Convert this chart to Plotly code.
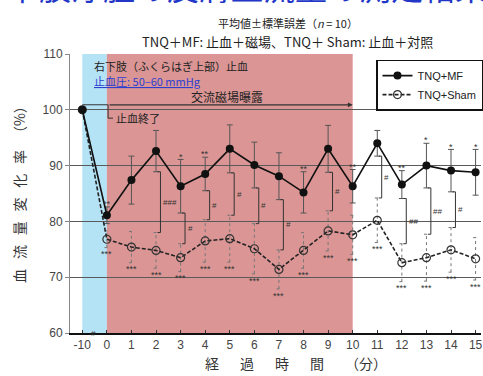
import plotly.graph_objects as go

# 経過時間（-10分は 0 の一つ左に配置）
X_POS = [-1, 0, 1, 2, 3, 4, 5, 6, 7, 8, 9, 10, 11, 12, 13, 14, 15]
X_LABELS = ["-10", "0", "1", "2", "3", "4", "5", "6", "7", "8", "9", "10",
            "11", "12", "13", "14", "15"]

mf = [100, 81.1, 87.4, 92.6, 86.3, 88.5, 93.0, 90.1, 88.1, 85.2, 93.0, 86.3,
      94.0, 86.6, 90.0, 89.1, 88.8]
mf_se = [0, 1.5, 4.3, 3.7, 4.8, 3.0, 4.3, 4.1, 4.2, 3.7, 4.2, 3.0,
         2.3, 2.5, 4.0, 3.8, 4.1]
sham = [100, 76.8, 75.4, 74.8, 73.5, 76.5, 76.9, 75.1, 71.4, 74.8, 78.3, 77.6,
        80.2, 72.6, 73.5, 74.9, 73.3]
sham_se = [0, 1.5, 2.8, 3.2, 2.5, 3.8, 4.2, 4.5, 3.5, 3.2, 3.6, 3.5,
           4.0, 3.4, 4.2, 4.0, 3.8]

# 有意差表示
mf_sig = ["", "**", "", "", "*", "**", "", "", "", "**", "", "**",
          "", "**", "*", "*", "*"]
sham_sig = ["", "***", "***", "***", "***", "***", "***", "***", "***", "***",
            "***", "***", "***", "***", "***", "***", "***"]
# 群間比較（MF vs Sham）
pair_idx = [3, 4, 5, 6, 7, 8, 10, 12, 13, 14, 15]
pair_sig = ["###", "#", "#", "#", "#", "#", "#", "#", "##", "##", "#"]

JP = "Noto Sans CJK JP"
NUM = "Liberation Sans, Arial, sans-serif"
PINK = "#da9594"
BLUE = "#b5e3f6"

fig = go.Figure()

fig.add_vrect(x0=-1, x1=0, fillcolor=BLUE, line_width=0, layer="below")
fig.add_vrect(x0=0, x1=10, fillcolor=PINK, line_width=0, layer="below")

# MF 誤差棒
ex, ey = [], []
for x, m, s in zip(X_POS, mf, mf_se):
    if s > 0:
        ex += [x, x, None, x - 0.12, x + 0.12, None, x - 0.12, x + 0.12, None]
        ey += [m - s, m + s, None, m + s, m + s, None, m - s, m - s, None]
fig.add_trace(go.Scatter(x=ex, y=ey, mode="lines", showlegend=False,
                         line=dict(color="#555", width=1), hoverinfo="skip"))

# Sham 誤差棒（点線）
ex, ey = [], []
for x, m, s in zip(X_POS, sham, sham_se):
    if s > 0:
        ex += [x, x, None, x - 0.1, x + 0.1, None, x - 0.1, x + 0.1, None]
        ey += [m - s, m + s, None, m + s, m + s, None, m - s, m - s, None]
fig.add_trace(go.Scatter(x=ex, y=ey, mode="lines", showlegend=False,
                         line=dict(color="#777", width=1, dash="dot"), hoverinfo="skip"))

# 群間ブラケット
bx, by = [], []
for i in pair_idx:
    x = X_POS[i] + 0.18
    top = mf[i] - mf_se[i]
    bot = sham[i] + sham_se[i]
    bx += [x - 0.12, x, x, x - 0.12, None]
    by += [top, top, bot, bot, None]
fig.add_trace(go.Scatter(x=bx, y=by, mode="lines", showlegend=False,
                         line=dict(color="#333", width=1), hoverinfo="skip"))

fig.add_trace(go.Scatter(
    x=X_POS, y=sham, name="TNQ+Sham", mode="lines+markers",
    line=dict(color="#222", width=1.6, dash="4px,2px"),
    marker=dict(symbol="circle-open", size=8, color="#333", line=dict(width=1.2)),
))
fig.add_trace(go.Scatter(
    x=X_POS, y=mf, name="TNQ+MF", mode="lines+markers",
    line=dict(color="#111", width=1.6),
    marker=dict(symbol="circle", size=8, color="#111"),
))

# 有意差テキスト
for x, m, s, t in zip(X_POS, mf, mf_se, mf_sig):
    if t:
        fig.add_annotation(x=x, y=m + s + 0.5, text=t, showarrow=False,
                           font=dict(size=9, color="#333", family=NUM))
for x, m, s, t in zip(X_POS, sham, sham_se, sham_sig):
    if t:
        fig.add_annotation(x=x, y=m - s - 1.2, text=t, showarrow=False,
                           font=dict(size=9, color="#333", family=NUM))
for i, t in zip(pair_idx, pair_sig):
    mid = (mf[i] - mf_se[i] + sham[i] + sham_se[i]) / 2
    fig.add_annotation(x=X_POS[i] + 0.2, y=mid, text=t, showarrow=False,
                       xanchor="left", font=dict(size=8, color="#333", family=NUM))
fig.add_annotation(x=-0.55, y=60, text="#", showarrow=False,
                   font=dict(size=8, color="#333", family=NUM))

# 実験手順の注記
fig.add_shape(type="line", x0=-1, x1=0.05, y0=100.9, y1=100.9,
              line=dict(color="#333", width=1))
fig.add_shape(type="line", x0=0.05, x1=0.05, y0=100.9, y1=98.5,
              line=dict(color="#333", width=1))
fig.add_shape(type="line", x0=0.05, x1=0.25, y0=98.5, y1=98.5,
              line=dict(color="#333", width=1))
fig.add_annotation(x=0.3, y=98.5, text="止血終了", showarrow=False, xanchor="left",
                   font=dict(size=11, color="#222", family=JP))
fig.add_annotation(x=10, y=100.9, ax=0.05, ay=100.9, axref="x", ayref="y",
                   text="", showarrow=True, arrowhead=2, arrowsize=0.8,
                   arrowwidth=1.2, arrowcolor="#333")
fig.add_annotation(x=4.9, y=102.4, text="交流磁場曝露", showarrow=False,
                   font=dict(size=12, color="#222", family=JP))
fig.add_annotation(x=-0.6, y=107.9, text="右下肢（ふくらはぎ上部）止血", showarrow=False,
                   xanchor="left", font=dict(size=11, color="#222", family=JP))
fig.add_annotation(x=-0.6, y=105.2, text="<u>止血圧: 50–60 mmHg</u>", showarrow=False,
                   xanchor="left", font=dict(size=11, color="#2c3fd0", family=JP))

# タイトル類
fig.add_annotation(x=-0.158, y=1, xref="paper", yref="paper", xanchor="left",
                   yanchor="bottom", yshift=43, showarrow=False,
                   text="下肢浮腫の皮膚血流量の測定結果",
                   font=dict(size=32, color="#2236c8", family=JP))
fig.add_annotation(x=0.53, y=1, xref="paper", yref="paper", xanchor="center",
                   yanchor="bottom", yshift=21, showarrow=False,
                   text="平均値±標準誤差（<i>n</i> = 10）",
                   font=dict(size=11, color="#222", family=JP))
fig.add_annotation(x=0.53, y=1, xref="paper", yref="paper", xanchor="center",
                   yanchor="bottom", yshift=1, showarrow=False,
                   text="TNQ＋MF: 止血＋磁場、TNQ＋ Sham: 止血＋対照",
                   font=dict(size=13, color="#222", family=JP))
fig.add_annotation(x=7.7, y=0, yref="paper", yanchor="top", yshift=-18,
                   showarrow=False,
                   text="経\u2003\u2002過\u2003\u2002時\u2003\u2002間\u2003\u2002（分）",
                   font=dict(size=14, color="#333", family=JP))
fig.add_annotation(x=-0.126, y=85.5, xref="paper", xanchor="center", textangle=-90,
                   showarrow=False,
                   text="血\u2002\u2009流\u2002\u2009量\u2002\u2009変\u2002\u2009化\u2002\u2009率\u2002\u2009（%）",
                   font=dict(size=14, color="#333", family=JP))

fig.update_layout(
    width=483, height=376,
    margin=dict(l=70, r=0, t=54, b=43),
    paper_bgcolor="white", plot_bgcolor="white",
    font=dict(family=NUM, color="#333"),
    legend=dict(x=0.745, y=0.98, xanchor="left", yanchor="top",
                bgcolor="white", bordercolor="#111", borderwidth=1.5,
                font=dict(size=11, color="#222", family=NUM),
                traceorder="reversed", itemwidth=30),
)
fig.update_xaxes(range=[-1.5, 15.22], tickvals=X_POS, ticktext=X_LABELS,
                 showgrid=False, zeroline=False, showline=True,
                 linecolor="#111", linewidth=1.5, ticks="inside", ticklen=3,
                 tickcolor="#333", tickfont=dict(size=12, color="#444"))
fig.update_yaxes(range=[60, 110], tickvals=[60, 70, 80, 90, 100, 110],
                 showgrid=True, gridcolor="#5a5a5a", gridwidth=0.8,
                 zeroline=False, showline=True,
                 linecolor="#888", linewidth=1, ticks="outside", ticklen=4,
                 tickcolor="#888", tickfont=dict(size=12, color="#444"))

fig.write_html("out.html", config={"displayModeBar": False},
               post_script="document.body.style.margin='0px';")
